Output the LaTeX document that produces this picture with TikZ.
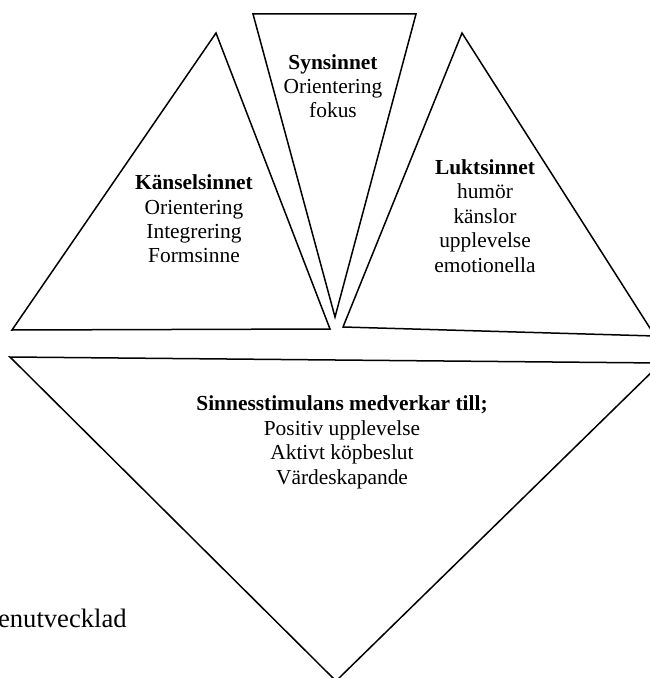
\documentclass[tikz,border=0pt]{standalone}
\usepackage{fontspec}
\setmainfont{Liberation Serif}
\usetikzlibrary{positioning}

\begin{document}
\begin{tikzpicture}[
  x=0.5pt, y=-0.5pt,
  tri/.style={draw, line width=0.75pt, line join=miter},
  lbl/.style={align=center, inner sep=0pt, font=\fontsize{10.7}{12.2}\selectfont},
]
  \useasboundingbox (0,0) rectangle (649,678);

  % triangles
  \draw[tri] (216,33) -- (330,329) -- (12,330) -- cycle;
  \draw[tri] (253,14) -- (416,14) -- (335,317) -- cycle;
  \draw[tri] (462,33) -- (655,336) -- (343,327) -- cycle;
  \draw[tri] (10,357) -- (661,363) -- (336,681) -- cycle;

  % texts (base = last line)
  \node[lbl, anchor=base] (syn) at (333,118) {\textbf{Synsinnet}\\Orientering\\fokus};
  \node[lbl, anchor=base] (kansel) at (194,263) {\textbf{Känselsinnet}\\Orientering\\Integrering\\Formsinne};
  \node[lbl, anchor=base] (lukt) at (485,272) {\textbf{Luktsinnet}\\humör\\känslor\\upplevelse\\emotionella};
  \node[lbl, anchor=base] (stim) at (342,484) {\textbf{Sinnesstimulans medverkar till;}\\Positiv upplevelse\\Aktivt köpbeslut\\Värdeskapande};
  \node[inner sep=0pt, anchor=base east, font=\fontsize{13.3}{15}\selectfont] (utv) at (127,627) {enutvecklad};
\end{tikzpicture}
\end{document}
